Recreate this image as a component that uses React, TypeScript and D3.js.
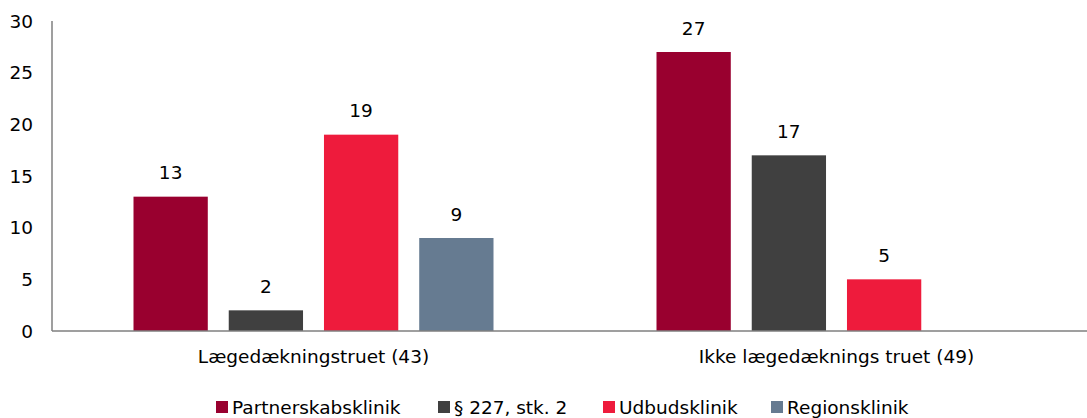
import React from 'react';
import * as d3 from 'd3';

const categories = ['Lægedækningstruet (43)', 'Ikke lægedæknings truet (49)'];
const series = ['Partnerskabsklinik', '§ 227, stk. 2', 'Udbudsklinik', 'Regionsklinik'];
const colors = ['#99002f', '#404040', '#ee1b3c', '#667b91'];
const values: (number | null)[][] = [
  [13, 2, 19, 9],
  [27, 17, 5, null],
];
const yTicks = [0, 5, 10, 15, 20, 25, 30];
const legendX = [216, 438, 603, 771];

const W = 1087;
const H = 418;
const font = '"DejaVu Sans", sans-serif';
const fs = 18.5;

export default function App() {
  const x0 = d3.scaleBand().domain(categories).range([52, 1098]);
  const x1 = d3.scaleBand().domain(series).range([81.5, 441.5]).paddingInner(0.22);
  const y = d3.scaleLinear().domain([0, 30]).range([331, 21]);

  return (
    <svg width={W} height={H} style={{ position: 'absolute', left: 0, top: 0, fontFamily: font }}>
      {/* y axis */}
      <line x1={52} x2={52} y1={y(30)} y2={y(0)} stroke="#7f7f7f" strokeWidth={1.5} />
      {yTicks.map(t => (
        <text key={t} x={33} y={y(t)} dy="0.36em" textAnchor="end" fontSize={fs} fill="#000">
          {t}
        </text>
      ))}

      {/* bars */}
      {categories.map((c, ci) => (
        <g key={c} transform={`translate(${x0(c)},0)`}>
          {series.map((s, si) => {
            const v = values[ci][si];
            if (v == null) return null;
            const bx = x1(s) as number;
            return (
              <g key={s}>
                <rect x={bx} y={y(v)} width={x1.bandwidth()} height={y(0) - y(v)} fill={colors[si]} />
                <text x={bx + x1.bandwidth() / 2} y={y(v) - 24} dy="0.36em" textAnchor="middle" fontSize={fs} fill="#000">
                  {v}
                </text>
              </g>
            );
          })}
          <text x={(x0.bandwidth()) / 2} y={356} dy="0.36em" textAnchor="middle" fontSize={fs} fill="#000">
            {c}
          </text>
        </g>
      ))}

      {/* x axis baseline */}
      <line x1={52} x2={W} y1={y(0)} y2={y(0)} stroke="#7f7f7f" strokeWidth={1.5} />

      {/* legend */}
      {series.map((s, i) => (
        <g key={s} transform={`translate(${legendX[i]},407)`}>
          <rect x={0} y={-6} width={12} height={12} fill={colors[i]} />
          <text x={16} y={0} dy="0.36em" fontSize={fs} fill="#000">
            {s}
          </text>
        </g>
      ))}
    </svg>
  );
}
